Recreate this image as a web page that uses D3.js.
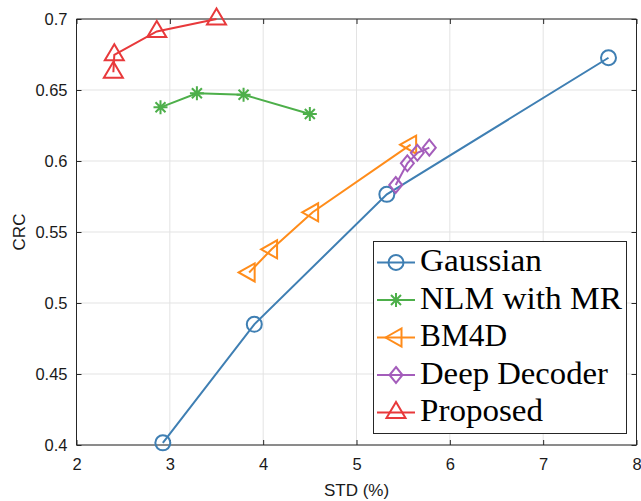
<!DOCTYPE html>
<html><head><meta charset="utf-8">
<script src="https://cdn.jsdelivr.net/npm/d3@7"></script>
<style>body{margin:0;background:#fff}svg{display:block}</style>
</head><body>
<svg id="c" width="641" height="501"></svg>
<script>
const seriesNames = ["Gaussian", "NLM with MR", "BM4D", "Deep Decoder", "Proposed"];
const seriesColors = ["#3f7fb3", "#4daf4a", "#ff8c1a", "#a45dbb", "#e8393b"];
const seriesMarkers = ["circle", "asterisk", "triangleLeft", "diamond", "triangleUp"];
const gaussianX = [2.925, 3.905, 5.325, 7.70];
const gaussianY = [0.4015, 0.485, 0.5765, 0.6727];
const nlmX = [2.90, 3.29, 3.79, 4.50];
const nlmY = [0.6378, 0.6477, 0.6467, 0.6331];
const bm4dX = [3.85, 4.09, 4.53, 5.58];
const bm4dY = [0.5215, 0.5378, 0.5639, 0.6115];
const ddX = [5.42, 5.545, 5.652, 5.78];
const ddY = [0.5831, 0.5984, 0.6058, 0.6094];
const propX = [2.395, 2.405, 2.86, 3.50];
const propY = [0.6625, 0.6748, 0.6912, 0.700];
const xTicks = [2, 3, 4, 5, 6, 7, 8];
const yTicks = [0.4, 0.45, 0.5, 0.55, 0.6, 0.65, 0.7];
const xLabel = "STD (%)";
const yLabel = "CRC";

const allX = [gaussianX, nlmX, bm4dX, ddX, propX];
const allY = [gaussianY, nlmY, bm4dY, ddY, propY];

const svg = d3.select("#c");
const L = 76.5, R = 636.5, T = 19, B = 445;
const x = d3.scaleLinear().domain([2, 8]).range([L, R]);
const y = d3.scaleLinear().domain([0.4, 0.7]).range([B, T]);
const axisColor = "#262626";

// grid
const g = svg.append("g");
g.selectAll(".gx").data(xTicks).join("line")
  .attr("x1", d => x(d)).attr("x2", d => x(d)).attr("y1", T).attr("y2", B)
  .attr("stroke", "#e3e3e3").attr("stroke-width", 1);
g.selectAll(".gy").data(yTicks).join("line")
  .attr("y1", d => y(d)).attr("y2", d => y(d)).attr("x1", L).attr("x2", R)
  .attr("stroke", "#e3e3e3").attr("stroke-width", 1);

// axes
const fmtY = d => d3.format("")(+d.toFixed(2));
const ax = svg.append("g").attr("transform", `translate(0,${B})`)
  .call(d3.axisBottom(x).tickValues(xTicks).tickSize(-5).tickPadding(13).tickFormat(d3.format("d")));
const ay = svg.append("g").attr("transform", `translate(${L},0)`)
  .call(d3.axisLeft(y).tickValues(yTicks).tickSize(-5).tickPadding(9).tickFormat(fmtY));
const axT = svg.append("g").attr("transform", `translate(0,${T})`)
  .call(d3.axisTop(x).tickValues(xTicks).tickSize(-5).tickFormat(""));
const ayR = svg.append("g").attr("transform", `translate(${R},0)`)
  .call(d3.axisRight(y).tickValues(yTicks).tickSize(-5).tickFormat(""));
[ax, ay, axT, ayR].forEach(a => {
  a.selectAll("path").attr("stroke", axisColor).attr("stroke-width", 1);
  a.selectAll("line").attr("stroke", axisColor).attr("stroke-width", 1);
  a.selectAll("text").attr("fill", "#1a1a1a").style("font-family", "'Liberation Sans', Arial, sans-serif").style("font-size", "16.5px");
});
ax.select(".domain").attr("d", `M${L},0H${R}`);
axT.select(".domain").attr("d", `M${L},0H${R}`);
ay.select(".domain").attr("d", `M0,${B}V${T}`);
ayR.select(".domain").attr("d", `M0,${B}V${T}`);

svg.append("text").attr("x", (L + R) / 2).attr("y", 496).attr("text-anchor", "middle")
  .style("font-family", "'Liberation Sans', Arial, sans-serif").style("font-size", "17px").attr("fill", "#1a1a1a")
  .text(xLabel);
svg.append("text").attr("transform", `translate(25,${(T + B) / 2}) rotate(-90)`).attr("text-anchor", "middle")
  .style("font-family", "'Liberation Sans', Arial, sans-serif").style("font-size", "17px").attr("fill", "#1a1a1a")
  .text(yLabel);

function markerPath(type) {
  switch (type) {
    case "circle": return "M7.5,0A7.5,7.5,0,1,1,-7.5,0A7.5,7.5,0,1,1,7.5,0Z";
    case "asterisk": {
      const a = 7, b = 5;
      return `M${-a},0L${a},0M0,${-a}L0,${a}M${-b},${-b}L${b},${b}M${-b},${b}L${b},${-b}`;
    }
    case "triangleLeft": return "M-10.5,0L5.5,-9L5.5,9Z";
    case "triangleUp": return "M0,-10.5L-9.5,5.5L9.5,5.5Z";
    case "diamond": return "M0,-8L6.5,0L0,8L-6.5,0Z";
  }
}

const line = d3.line().x(d => x(d[0])).y(d => y(d[1]));
const plot = svg.append("g");
seriesNames.forEach((name, i) => {
  const pts = allX[i].map((v, j) => [v, allY[i][j]]);
  plot.append("path").datum(pts).attr("d", line).attr("fill", "none")
    .attr("stroke", seriesColors[i]).attr("stroke-width", 2);
  plot.selectAll(null).data(pts).join("path")
    .attr("transform", d => `translate(${x(d[0])},${y(d[1])})`)
    .attr("d", markerPath(seriesMarkers[i])).attr("fill", "none")
    .attr("stroke", seriesColors[i]).attr("stroke-width", 2);
});

// legend
const lg = svg.append("g");
lg.append("rect").attr("x", 373.5).attr("y", 241.5).attr("width", 253).attr("height", 192)
  .attr("fill", "#fff").attr("stroke", axisColor).attr("stroke-width", 1);
const textLens = [122, 202, 87, 188, 123];
seriesNames.forEach((name, i) => {
  const cy = 262.5 + 37.5 * i;
  lg.append("line").attr("x1", 377).attr("x2", 415).attr("y1", cy).attr("y2", cy)
    .attr("stroke", seriesColors[i]).attr("stroke-width", 2);
  lg.append("path").attr("transform", `translate(396,${cy})`).attr("d", markerPath(seriesMarkers[i]))
    .attr("fill", "none").attr("stroke", seriesColors[i]).attr("stroke-width", 2);
  lg.append("text").attr("x", 420).attr("y", cy + 8.5)
    .style("font-family", "'Liberation Serif', 'Times New Roman', serif").style("font-size", "31px")
    .attr("fill", "#000").attr("textLength", textLens[i]).attr("lengthAdjust", "spacingAndGlyphs")
    .text(name);
});
</script>
</body></html>
